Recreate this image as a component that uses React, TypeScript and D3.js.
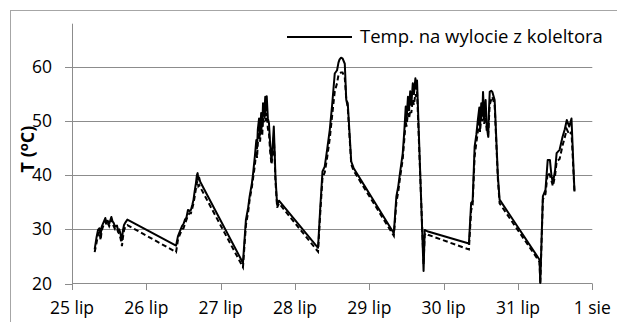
import * as d3 from 'd3'

// time in days since 25 lip 00:00
const times = [
  0.305, 0.33, 0.35, 0.37, 0.385, 0.40, 0.43, 0.448, 0.465, 0.48, 0.50, 0.53, 0.545, 0.56, 0.58, 0.605, 0.62, 0.636, 0.655, 0.672, 0.685, 0.70, 0.72, 0.745,
  1.40, 1.425, 1.45, 1.48, 1.50, 1.52, 1.54, 1.56, 1.58, 1.60, 1.62, 1.635, 1.65, 1.667, 1.68, 1.69, 1.70, 1.71, 1.725,
  2.30, 2.34, 2.37, 2.39, 2.42, 2.437, 2.46, 2.48, 2.49, 2.50, 2.517, 2.53, 2.545, 2.56, 2.57, 2.585, 2.60, 2.61, 2.62, 2.635, 2.65, 2.665, 2.684, 2.70, 2.715, 2.725, 2.737, 2.76, 2.785,
  3.31, 3.34, 3.37, 3.40, 3.43, 3.468, 3.50, 3.535, 3.566, 3.585, 3.60, 3.62, 3.64, 3.67, 3.69, 3.71, 3.757, 3.79,
  4.33, 4.364, 4.39, 4.41, 4.45, 4.47, 4.49, 4.50, 4.52, 4.535, 4.55, 4.565, 4.585, 4.60, 4.62, 4.63, 4.642, 4.73, 4.745, 4.758, 4.79,
  5.34, 5.37, 5.39, 5.417, 5.44, 5.46, 5.48, 5.49, 5.506, 5.52, 5.53, 5.545, 5.565, 5.58, 5.60, 5.61, 5.62, 5.64, 5.655, 5.686, 5.73, 5.753,
  6.29, 6.30, 6.335, 6.37, 6.40, 6.43, 6.45, 6.47, 6.50, 6.52, 6.56, 6.60, 6.63, 6.657, 6.69, 6.72, 6.76,
]

// Temp. na wylocie z koleltora (solid)
const outletTemp = [
  26.3, 28.5, 29.9, 30.2, 29.0, 30.5, 31.5, 32.1, 31.2, 31.6, 31.0, 32.3, 31.5, 31.2, 30.5, 30.7, 29.8, 30.0, 29.0, 28.0, 29.8, 30.8, 31.3, 31.8,
  27.0, 28.7, 29.6, 30.6, 31.0, 31.8, 32.2, 33.6, 33.4, 33.6, 34.6, 35.5, 37.0, 38.5, 40.0, 40.4, 39.2, 39.6, 38.8,
  23.8, 31.8, 34.0, 36.1, 38.5, 40.4, 43.5, 46.5, 45.0, 48.5, 50.5, 47.5, 51.5, 49.0, 53.3, 51.0, 54.5, 52.0, 54.6, 50.5, 49.6, 46.0, 42.5, 45.5, 49.0, 45.0, 39.8, 34.5, 35.3,
  26.6, 34.0, 40.7, 41.6, 44.5, 48.4, 53.0, 58.8, 59.4, 60.8, 61.4, 61.7, 61.6, 60.6, 53.9, 53.3, 42.5, 41.3,
  29.3, 36.1, 38.0, 40.1, 44.1, 48.0, 52.7, 50.0, 54.5, 52.0, 55.5, 53.0, 57.0, 55.0, 57.9, 56.0, 57.5, 22.3, 29.9, 29.8, 29.6,
  27.4, 34.9, 35.2, 45.3, 47.5, 50.2, 52.5, 49.0, 53.3, 51.0, 55.4, 50.5, 53.9, 49.0, 47.1, 52.0, 55.4, 55.6, 55.4, 53.9, 39.8, 35.5,
  24.4, 20.1, 36.1, 37.3, 42.8, 42.8, 40.0, 38.5, 41.0, 44.1, 44.7, 47.1, 48.5, 50.2, 49.0, 50.5, 37.0,
]

// second series (dashed)
const secondTemp = [
  25.8, 27.5, 29.0, 29.6, 28.0, 29.8, 31.0, 31.5, 30.8, 31.2, 30.6, 31.8, 31.2, 30.6, 30.0, 30.2, 29.5, 29.2, 28.2, 26.9, 28.5, 29.8, 30.6, 30.8,
  25.8, 28.0, 29.0, 30.0, 30.2, 31.0, 31.8, 32.5, 33.0, 33.0, 34.0, 34.8, 36.0, 37.5, 38.6, 39.0, 38.0, 38.2, 37.8,
  23.0, 30.8, 33.2, 35.5, 37.8, 39.5, 41.8, 44.5, 43.2, 46.0, 48.0, 46.2, 49.0, 47.5, 50.5, 49.8, 52.0, 50.0, 51.5, 48.6, 47.8, 44.5, 42.0, 44.0, 47.0, 44.0, 39.0, 34.0, 34.8,
  25.9, 33.0, 39.5, 40.5, 43.0, 46.8, 51.0, 55.5, 57.0, 58.5, 58.8, 59.0, 59.0, 58.0, 54.0, 52.5, 42.0, 40.8,
  28.8, 35.0, 37.0, 39.2, 43.0, 46.5, 50.0, 49.0, 51.5, 50.5, 52.0, 51.5, 54.0, 53.0, 55.0, 54.5, 55.5, 23.5, 29.0, 29.3, 29.0,
  26.3, 33.5, 34.5, 43.5, 46.0, 48.0, 50.5, 48.0, 51.0, 50.0, 52.5, 49.5, 51.5, 48.0, 47.5, 50.5, 53.0, 54.0, 54.5, 53.0, 39.2, 34.8,
  24.0, 20.0, 35.5, 36.5, 40.5, 40.0, 39.0, 38.0, 40.0, 42.5, 43.0, 45.5, 47.0, 48.5, 47.5, 48.0, 37.0,
]

const yTicks = [20, 30, 40, 50, 60]
const xTicks = [0, 1, 2, 3, 4, 5, 6, 7]
const xLabels = ['25 lip', '26 lip', '27 lip', '28 lip', '29 lip', '30 lip', '31 lip', '1 sie']
const legendLabel = 'Temp. na wylocie z koleltora'

const W = 617
const H = 322
const font = '"Open Sans", sans-serif'
const gridColor = '#8c8c8c'

export default function App() {
  const x = d3.scaleLinear().domain([0, 7]).range([72, 592.3])
  const y = d3.scaleLinear().domain([20, 68]).range([283.5, 23.7])

  const line = d3.line<number>()
    .x((_, i) => x(times[i]))
    .y(d => y(d))

  return (
    <svg width={W} height={H} style={{ position: 'absolute', left: 0, top: 0, background: '#fff' }}>
      <rect x={10.5} y={10.5} width={W} height={H} fill="#fff" stroke="#a6a6a6" />

      {/* gridlines */}
      {yTicks.slice(1).map(t => (
        <line key={t} x1={x(0)} x2={x(7)} y1={Math.round(y(t)) + 0.5} y2={Math.round(y(t)) + 0.5}
          stroke={gridColor} strokeWidth={1} />
      ))}

      {/* y axis */}
      <line x1={72.5} x2={72.5} y1={y(68)} y2={y(20)} stroke={gridColor} />
      {yTicks.map(t => (
        <g key={t}>
          <line x1={65} x2={72} y1={Math.round(y(t)) + 0.5} y2={Math.round(y(t)) + 0.5} stroke={gridColor} />
          <text x={52} y={y(t) + 6} textAnchor="end" fontFamily={font} fontSize={17.5} fill="#000">{t}</text>
        </g>
      ))}

      {/* x axis */}
      <line x1={x(0)} x2={x(7)} y1={283.5} y2={283.5} stroke={gridColor} />
      {xTicks.map((t, i) => (
        <g key={t}>
          <line x1={Math.round(x(t)) + 0.5} x2={Math.round(x(t)) + 0.5} y1={283.5} y2={290} stroke={gridColor} />
          <text x={x(t)} y={314} textAnchor="middle" fontFamily={font} fontSize={17.5} fill="#000">{xLabels[i]}</text>
        </g>
      ))}

      {/* series */}
      <path d={line(secondTemp) ?? ''} fill="none" stroke="#000" strokeWidth={2} strokeDasharray="5,3" />
      <path d={line(outletTemp) ?? ''} fill="none" stroke="#000" strokeWidth={2} strokeLinejoin="round" />

      {/* y title */}
      <text transform="translate(34,149) rotate(-90)" textAnchor="middle" fontFamily={font} fontSize={18}
        fontWeight="bold" fill="#000">
        T (<tspan fontSize={13} dy={-6}>o</tspan><tspan dy={6}>C)</tspan>
      </text>

      {/* legend */}
      <line x1={287} x2={352} y1={37} y2={37} stroke="#000" strokeWidth={2} />
      <text x={360} y={43} fontFamily={font} fontSize={18.5} fill="#000">{legendLabel}</text>
    </svg>
  )
}
